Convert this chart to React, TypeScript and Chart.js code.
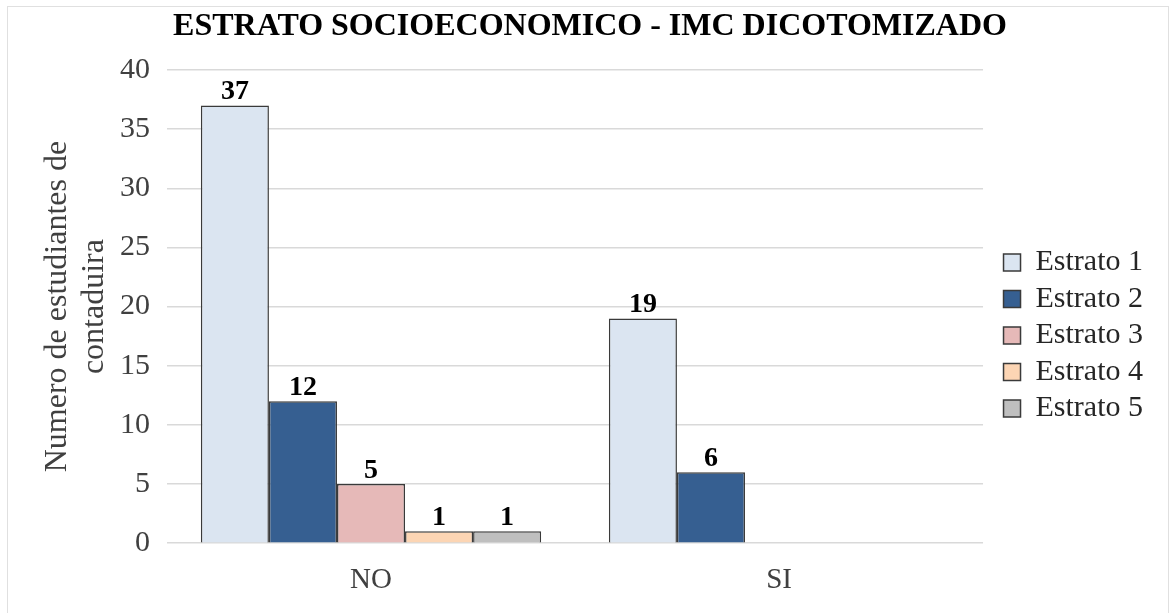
import React, { useEffect, useRef } from "react";
import { Chart, registerables } from "chart.js";

Chart.register(...registerables);

// Chart data
const categories = ["NO", "SI"];
const seriesNames = ["Estrato 1", "Estrato 2", "Estrato 3", "Estrato 4", "Estrato 5"];
const estrato1 = [37, 19];
const estrato2 = [12, 6];
const estrato3 = [5, 0];
const estrato4 = [1, 0];
const estrato5 = [1, 0];
const yTicks = [0, 5, 10, 15, 20, 25, 30, 35, 40];

const fills = ["#dbe5f1", "#365f91", "#e6b9b8", "#fcd5b4", "#bfbfbf"];
const SERIF = "'Liberation Serif', 'Times New Roman', serif";

// Writes each non-zero bar's value above it
const valueLabels = {
  id: "valueLabels",
  afterDatasetsDraw(chart: any) {
    const ctx = chart.ctx;
    ctx.save();
    ctx.font = `bold 28px ${SERIF}`;
    ctx.fillStyle = "#000000";
    ctx.textAlign = "center";
    ctx.textBaseline = "alphabetic";
    chart.data.datasets.forEach((ds: any, i: number) => {
      const meta = chart.getDatasetMeta(i);
      meta.data.forEach((el: any, j: number) => {
        const v = ds.data[j];
        if (v == null || v === 0) return;
        ctx.fillText(String(v), el.x, el.y - 6);
      });
    });
    ctx.restore();
  },
};

export default function App() {
  const canvasRef = useRef<HTMLCanvasElement | null>(null);

  useEffect(() => {
    document.body.style.margin = "0";
    const seriesValues = [estrato1, estrato2, estrato3, estrato4, estrato5];
    const chart = new Chart(canvasRef.current as HTMLCanvasElement, {
      type: "bar",
      data: {
        labels: categories,
        datasets: seriesNames.map((name, i) => ({
          label: name,
          data: seriesValues[i].map((v) => (v === 0 ? null : v)),
          backgroundColor: fills[i],
          borderColor: "#3a3a3a",
          borderWidth: 1.5,
          categoryPercentage: 0.834,
          barPercentage: 1,
        })),
      },
      options: {
        animation: false,
        responsive: false,
        layout: { padding: { left: 27, right: 18, top: 0, bottom: 3 } },
        plugins: {
          title: {
            display: true,
            text: "ESTRATO SOCIOECONOMICO - IMC DICOTOMIZADO",
            color: "#000000",
            font: { family: SERIF, size: 32, weight: "bold" },
            padding: { top: 8, bottom: 23.6 },
          },
          legend: {
            position: "right",
            title: {
              display: true,
              text: "",
              font: { size: 10 },
              padding: { top: 22, bottom: 27 },
            },
            labels: {
              color: "#262626",
              font: { family: SERIF, size: 30 },
              boxWidth: 17,
              boxHeight: 17,
              padding: 6.5,
            },
          },
          tooltip: { enabled: false },
        },
        scales: {
          x: {
            grid: { display: false },
            border: { display: false },
            ticks: {
              color: "#404040",
              font: { family: SERIF, size: 29 },
              padding: 12,
            },
          },
          y: {
            min: 0,
            max: 40,
            afterBuildTicks: (scale: any) => {
              scale.ticks = yTicks.map((v) => ({ value: v }));
            },
            afterFit: (scale: any) => {
              scale.width = 140;
            },
            grid: { color: "#d9d9d9", lineWidth: 1.5, drawTicks: false },
            border: { display: false },
            ticks: {
              color: "#404040",
              font: { family: SERIF, size: 30 },
              padding: 17,
            },
            title: {
              display: true,
              text: ["Numero de estudiantes de", "contaduira"],
              color: "#404040",
              font: { family: SERIF, size: 32, lineHeight: 1.16 },
              padding: { top: 12, bottom: 0 },
            },
          },
          // empty spacer between the plot and the legend
          gap: {
            type: "linear",
            position: "right",
            display: true,
            grid: { display: false },
            border: { display: false },
            ticks: { display: false },
            afterFit: (scale: any) => {
              scale.width = 14;
            },
          },
        },
      },
      plugins: [valueLabels],
    });
    return () => chart.destroy();
  }, []);

  return (
    <div style={{ position: "relative", width: 1171, height: 613, background: "#ffffff" }}>
      <canvas ref={canvasRef} width={1171} height={613} style={{ display: "block" }} />
      <div
        style={{
          position: "absolute",
          left: 7,
          top: 6,
          width: 1162,
          height: 612,
          border: "1.5px solid #e0e0e0",
          borderBottom: "none",
          boxSizing: "border-box",
          pointerEvents: "none",
        }}
      />
    </div>
  );
}
